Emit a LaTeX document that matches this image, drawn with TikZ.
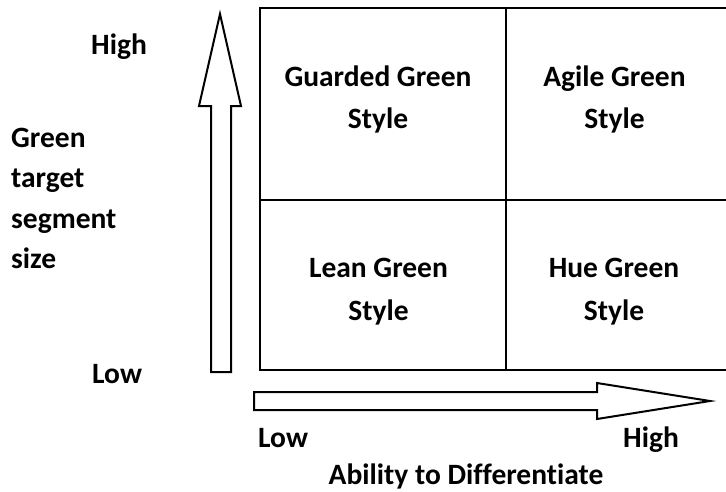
\documentclass[tikz,border=0pt]{standalone}
\usepackage{fontspec}
\setmainfont[Ligatures=NoCommon]{Carlito}
\begin{document}
\begin{tikzpicture}[x=1pt,y=-1pt,
  lbl/.style={inner sep=0pt, font=\bfseries\fontsize{29.5}{35}\selectfont},
  gridline/.style={line width=2.6pt, line cap=rect},
  blockarrow/.style={line width=2pt, line join=miter, draw=black, fill=white}]
\useasboundingbox (0,0) rectangle (726,491);
% grid
\draw[gridline] (726,8) -- (260,8) -- (260,370) -- (726,370);
\draw[gridline] (506,8) -- (506,370);
\draw[gridline] (260,200) -- (726,200);
% vertical block arrow
\draw[blockarrow] (211,372) -- (211,106) -- (199,106) -- (220,14) -- (241,106) -- (231,106) -- (231,372) -- cycle;
% horizontal block arrow
\draw[blockarrow] (254,392) -- (597,392) -- (597,383) -- (710,401) -- (597,419) -- (597,410) -- (254,410) -- cycle;
% quadrant texts
\node[lbl, anchor=base] (gg1) at (378,86) {Guarded Green};
\node[lbl, anchor=base] (gg2) at (378,128) {Style};
\node[lbl, anchor=base] (ag1) at (614.5,86) {Agile Green};
\node[lbl, anchor=base] (ag2) at (614.5,128) {Style};
\node[lbl, anchor=base] (lg1) at (378.5,277) {Lean Green};
\node[lbl, anchor=base] (lg2) at (378.5,320) {Style};
\node[lbl, anchor=base] (hg1) at (614,277) {Hue Green};
\node[lbl, anchor=base] (hg2) at (614,320) {Style};
% left axis labels
\node[lbl, anchor=base west] (yhigh) at (91,54) {High};
\node[lbl, anchor=base west] (ylow) at (92,383) {Low};
\node[lbl, anchor=base west] (y1) at (11,147) {Green};
\node[lbl, anchor=base west] (y2) at (11,187.5) {target};
\node[lbl, anchor=base west] (y3) at (11,228) {segment};
\node[lbl, anchor=base west] (y4) at (11,268) {size};
% bottom axis labels
\node[lbl, anchor=base west] (xlow) at (258,447) {Low};
\node[lbl, anchor=base west] (xhigh) at (623,447) {High};
\node[lbl, anchor=base] (xt) at (466,484) {Ability to Differentiate};
\end{tikzpicture}
\end{document}
